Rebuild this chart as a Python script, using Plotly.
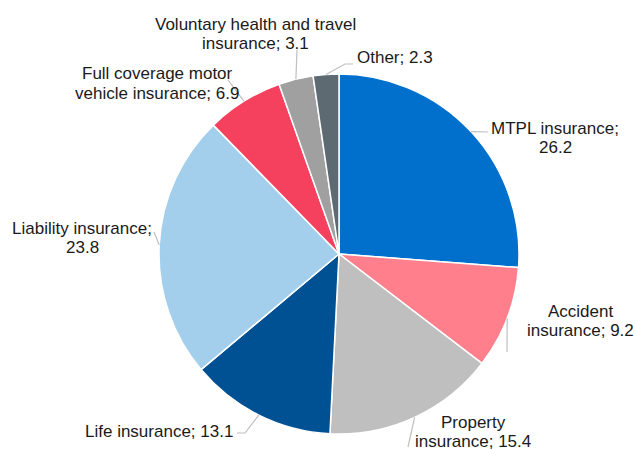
import math
import plotly.graph_objects as go

W, H = 635, 450

labels = ["MTPL insurance", "Accident insurance", "Property insurance", "Life insurance",
          "Liability insurance", "Full coverage motor vehicle insurance",
          "Voluntary health and travel insurance", "Other"]
values = [26.2, 9.2, 15.4, 13.1, 23.8, 6.9, 3.1, 2.3]
label_lines = [["MTPL insurance;", "26.2"], ["Accident", "insurance; 9.2"],
               ["Property", "insurance; 15.4"], ["Life insurance; 13.1"],
               ["Liability insurance;", "23.8"], ["Full coverage motor", "vehicle insurance; 6.9"],
               ["Voluntary health and travel", "insurance; 3.1"], ["Other; 2.3"]]
colors = ["#0070CC", "#FF808C", "#BFBFBF", "#005193", "#A3CFEC", "#F5405E", "#A0A0A0", "#5E6A72"]

# layout (pixels)
CX, CY, R = 339, 254, 180
LINE_H = 19
# centre x and first-line centre y of each label (px)
label_pos = [(555, 128), (580, 311), (473, 422), (159, 431),
             (82, 228), (157, 74), (255, 24), (395, 57)]
# elbow/end points of leader lines (px)
leader_ends = [[(488, 132)], [(507, 352)], [(408, 447)], [(245, 433), (237, 433)],
               [(154, 232)], [(228, 80)], [(297, 50)], [(345, 64), (353, 64)]]


def px(x, y):
    return x / W, 1 - y / H


fig = go.Figure(go.Pie(
    labels=labels, values=values, sort=False, direction="clockwise", rotation=0,
    marker=dict(colors=colors, line=dict(color="white", width=1.5)),
    textinfo="none", hoverinfo="label+value", showlegend=False,
    domain=dict(x=[(CX - R) / W, (CX + R) / W], y=[1 - (CY + R) / H, 1 - (CY - R) / H]),
))

annotations = []
shapes = []
total = sum(values)
cum = 0
for i, v in enumerate(values):
    mid = (cum + v / 2) / total * 2 * math.pi
    cum += v
    ex, ey = CX + R * math.sin(mid), CY - R * math.cos(mid)
    pts = [(ex, ey)] + leader_ends[i]
    path = "M " + " L ".join(f"{px(x, y)[0]:.5f},{px(x, y)[1]:.5f}" for x, y in pts)
    shapes.append(dict(type="path", path=path, xref="paper", yref="paper",
                       line=dict(color="#BFBFBF", width=1.2)))
    lx, ly = label_pos[i]
    for k, line in enumerate(label_lines[i]):
        ax, ay = px(lx, ly + k * LINE_H)
        annotations.append(dict(x=ax, y=ay, xref="paper", yref="paper", text=line,
                                showarrow=False, align="center", xanchor="center",
                                yanchor="middle",
                                font=dict(family="Liberation Sans, Arial, sans-serif", size=17,
                                          color="#1a1a1a")))

fig.update_layout(width=W, height=H, margin=dict(l=0, r=0, t=0, b=0),
                  paper_bgcolor="white", plot_bgcolor="white",
                  annotations=annotations, shapes=shapes)
fig.write_html("out.html", post_script="document.body.style.margin='0';",
               config={"displayModeBar": False})
